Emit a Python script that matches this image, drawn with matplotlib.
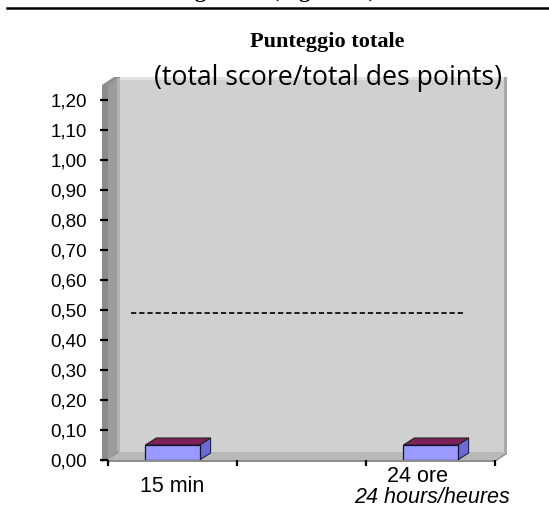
import matplotlib
matplotlib.use("Agg")
import matplotlib.pyplot as plt
from matplotlib.patches import Polygon, Rectangle
from matplotlib.lines import Line2D
from matplotlib.ticker import FuncFormatter
from matplotlib.transforms import blended_transform_factory, ScaledTranslation

# ---- data ----
categories = ["15 min", "24 ore"]
subtitles = ["", "24 hours/heures"]
cat_pos = [0.5, 2.5]
values = [0.05, 0.05]
ref_value = 0.49
ref_span = (0.18, 2.75)
y_ticks = [i / 10 for i in range(13)]
title = "Punteggio totale"
subtitle = "(total score/total des points)"
header = "Figura 11 (Figure 11)"

# ---- layout (pixels) ----
DPI = 100
W, H = 549, 517
X0, X1 = 108, 495
Y0, YT = 460, 85
XLIM = (0, 3)
YLIM = (0, 1.25)

fig = plt.figure(figsize=(W / DPI, H / DPI), dpi=DPI)
fig.patch.set_facecolor("white")
ax = fig.add_axes([X0 / W, (H - Y0) / H, (X1 - X0) / W, (Y0 - YT) / H])
ax.set_xlim(*XLIM)
ax.set_ylim(*YLIM)
ax.patch.set_visible(False)
for s in ax.spines.values():
    s.set_visible(False)

sx = (X1 - X0) / (XLIM[1] - XLIM[0])
sy = (Y0 - YT) / (YLIM[1] - YLIM[0])
DX, DY = 12 / sx, 8 / sy       # wall depth
T = 6 / sx                     # wall thickness
BDX, BDY = 11 / sx, 7 / sy     # bar depth
ymax = YLIM[1]
xmax = XLIM[1]

# back wall
ax.add_patch(Rectangle((DX, DY), xmax, ymax, facecolor="#d0d0d0",
                       edgecolor="none", zorder=0, clip_on=False))
# top bevel of back wall
ax.add_patch(Polygon([(DX - T, ymax + DY), (xmax + DX, ymax + DY),
                      (xmax + DX, ymax + DY - 3 / sy), (DX, ymax + DY - 3 / sy)],
                     closed=True, facecolor="#e2e2e2", edgecolor="none",
                     zorder=0.5, clip_on=False))
# right edge of back wall
ax.add_patch(Rectangle((xmax + DX - 3 / sx, DY), 3 / sx, ymax, facecolor="#a9a9a9",
                       edgecolor="none", zorder=0.6, clip_on=False))
# floor
ax.add_patch(Polygon([(0, 0), (xmax, 0), (xmax + DX, DY), (DX, DY)], closed=True,
                     facecolor="#b9b9b9", edgecolor="none", zorder=0.7, clip_on=False))
ax.add_patch(Polygon([(0, 0), (xmax, 0), (xmax + DX, DY), (xmax + DX, DY - 2 / sy),
                      (xmax, -2 / sy), (0, -2 / sy)], closed=True,
                     facecolor="#8e8e8e", edgecolor="none", zorder=0.75, clip_on=False))
# left side wall
ax.add_patch(Polygon([(-T, -2 / sy), (-T, ymax), (DX - T, ymax + DY), (DX, ymax + DY),
                      (DX, DY), (0, 0)], closed=True,
                     facecolor="#8c8c8c", edgecolor="none", zorder=0.8, clip_on=False))
ax.add_patch(Polygon([(0, 0), (0, ymax), (DX - 3 / sx, ymax + DY - 1 / sy),
                      (DX - 3 / sx, DY)], closed=True,
                     facecolor="#9c9c9c", edgecolor="none", zorder=0.85, clip_on=False))
ax.add_patch(Rectangle((DX - 3 / sx, DY), 3 / sx, ymax - 1 / sy, facecolor="#b3b3b3",
                       edgecolor="none", zorder=0.9, clip_on=False))

# bars (3D look)
bw = 0.42
for xc, v in zip(cat_pos, values):
    x0, x1 = xc - bw / 2, xc + bw / 2
    ax.add_patch(Polygon([(x1, 0), (x1 + BDX, BDY), (x1 + BDX, v + BDY), (x1, v)],
                         closed=True, facecolor="#6b6bd6", edgecolor="#222244",
                         linewidth=0.8, zorder=3))
    ax.add_patch(Polygon([(x0, v), (x1, v), (x1 + BDX, v + BDY), (x0 + BDX, v + BDY)],
                         closed=True, facecolor="#7d2158", edgecolor="#222222",
                         linewidth=0.8, zorder=3))
    ax.add_patch(Rectangle((x0, 0), bw, v, facecolor="#9999ff", edgecolor="#111133",
                           linewidth=0.9, zorder=4))

# dashed reference
ax.hlines(ref_value, ref_span[0], ref_span[1], colors="black", linewidth=1.2,
          linestyles=(0, (3.2, 1.7)), zorder=2)

# y axis ticks
ax.set_yticks(y_ticks)
ax.yaxis.set_major_formatter(FuncFormatter(lambda v, p: f"{v:.2f}".replace(".", ",")))
ax.tick_params(axis="y", direction="out", length=6, width=1.6, pad=9,
               labelsize=13.5, colors="black")
for lab in ax.get_yticklabels():
    lab.set_fontfamily("Liberation Sans")

# x axis: boundary ticks as marks, labels as text
ax.set_xticks([0, 1, 2, 3])
ax.set_xticklabels([])
ax.tick_params(axis="x", direction="out", length=4, width=1.6)

bt = blended_transform_factory(ax.transData, ax.transAxes)
for xc, lab, sub in zip(cat_pos, categories, subtitles):
    if sub:
        tr1 = bt + ScaledTranslation(-13 / DPI, -22 / DPI, fig.dpi_scale_trans)
        ax.text(xc, 0, lab, transform=tr1, ha="center", va="baseline",
                fontsize=15.5, family="Liberation Sans")
        tr2 = bt + ScaledTranslation(1 / DPI, -43 / DPI, fig.dpi_scale_trans)
        ax.text(xc, 0, sub, transform=tr2, ha="center", va="baseline",
                fontsize=15.5, family="Liberation Sans", style="italic")
    else:
        tr1 = bt + ScaledTranslation(0, -32 / DPI, fig.dpi_scale_trans)
        ax.text(xc, 0, lab, transform=tr1, ha="center", va="baseline",
                fontsize=15.5, family="Liberation Sans")

# titles
fig.text(327 / W, (H - 47) / H, title, ha="center", va="baseline",
         fontsize=16, fontweight="bold", family="Liberation Serif")
fig.text(327.5 / W, (H - 85) / H, subtitle, ha="center", va="baseline",
         fontsize=19.2, family="Open Sans")

# header remnant (cut off at the top edge, as in the source) and rule
fig.text(276 / W, (H + 3.5) / H, header, ha="center", va="baseline",
         fontsize=16, fontweight="bold", family="Liberation Serif")
fig.add_artist(Line2D([7 / W, 1.0], [(H - 8) / H, (H - 8) / H], color="black",
                      linewidth=1.8, transform=fig.transFigure))

fig.savefig("out.png", dpi=DPI)
